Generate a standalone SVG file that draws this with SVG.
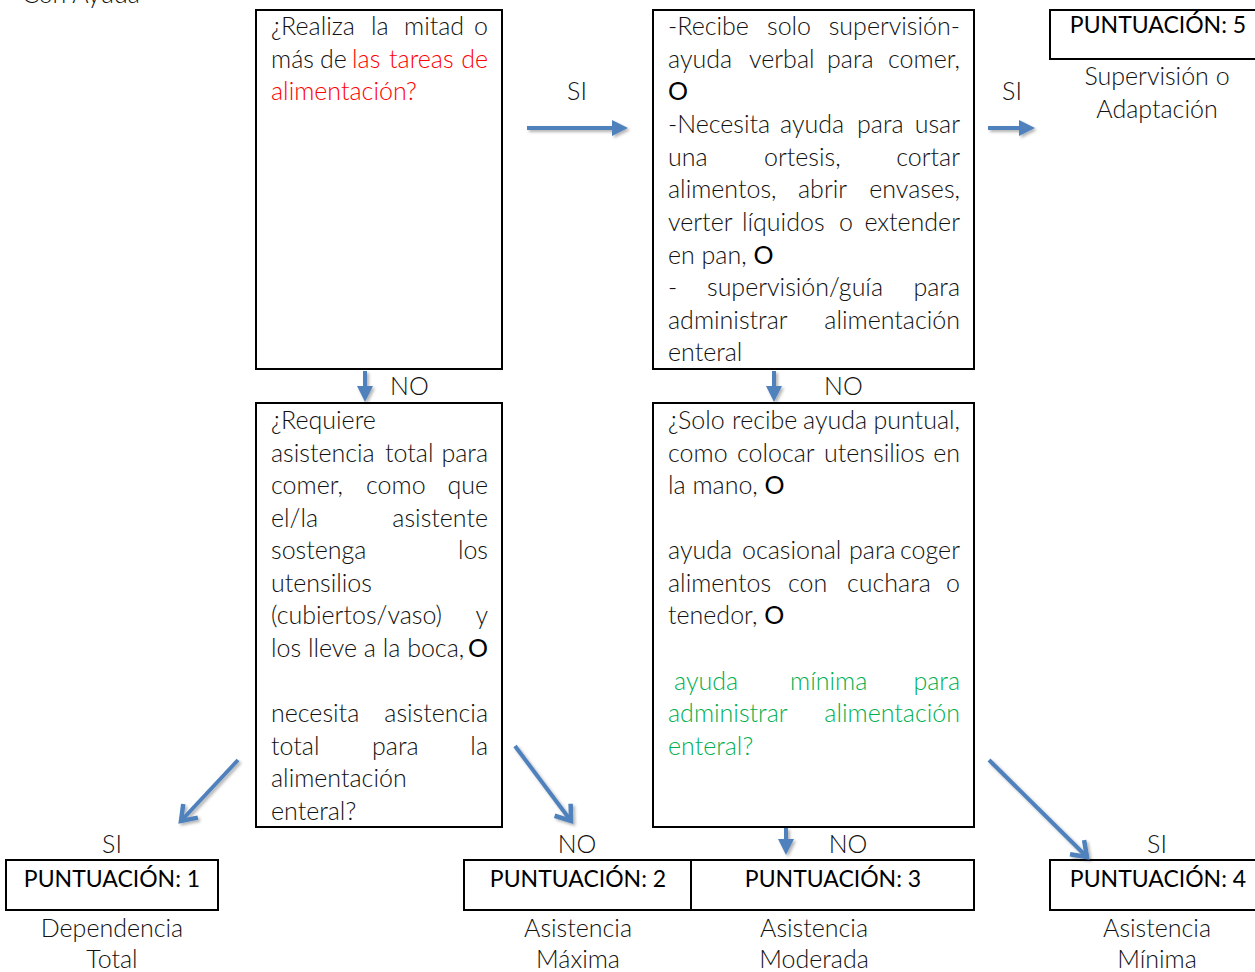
<svg xmlns="http://www.w3.org/2000/svg" width="1255" height="972" viewBox="0 0 1255 972">
  <style>
    .box { fill: #ffffff; stroke: #000000; stroke-width: 2; }
    .t { font-family: Lato, "Open Sans", "Liberation Sans", sans-serif; font-weight: 300; font-size: 25px; fill: #111111; }
    .o { font-weight: 400; font-size: 25px; fill: #000000; }
    .red { fill: #ff0000; }
    .green { fill: #00b050; }
    .score { font-family: Lato, "Open Sans", "Liberation Sans", sans-serif; font-weight: 400; font-size: 23px; fill: #000000; text-anchor: middle; }
    .mid { text-anchor: middle; }
    .end { text-anchor: end; }
    .arrow { fill: none; stroke: #4f81bd; stroke-width: 4; }
  </style>
  <defs>
    <filter id="shadow" x="-20%" y="-20%" width="140%" height="140%">
      <feDropShadow dx="2" dy="2" stdDeviation="1.5" flood-color="#000000" flood-opacity="0.3"/>
    </filter>
    <marker id="tri" viewBox="0 0 16 16" refX="4" refY="8" markerWidth="16" markerHeight="16" markerUnits="userSpaceOnUse" orient="auto">
      <path d="M0,0 L16,8 L0,16 z" fill="#4f81bd"/>
    </marker>
    <marker id="vee" viewBox="-18 -13 22 26" refX="0" refY="0" markerWidth="22" markerHeight="26" markerUnits="userSpaceOnUse" orient="auto" overflow="visible">
      <path d="M-14,-10 L0,0 L-14,10" fill="none" stroke="#4f81bd" stroke-width="4.5" stroke-linejoin="miter"/>
    </marker>
  </defs>

  <rect width="1255" height="972" fill="#ffffff"/>

  <!-- heading cut at the top edge -->
  <text class="t" x="22" y="3">Con Ayuda</text>

  <!-- question: half or more of feeding tasks -->
  <g id="q-mitad">
    <rect class="box" x="256" y="10" width="246" height="359"/>
    <text class="t" y="35"><tspan x="271">¿Realiza</tspan><tspan x="371">la</tspan><tspan x="404">mitad</tspan><tspan x="488" class="end">o</tspan></text>
    <text class="t" y="68"><tspan x="271">más</tspan><tspan x="320">de</tspan><tspan x="352" class="red">las</tspan><tspan x="389" class="red">tareas</tspan><tspan x="488" class="end red">de</tspan></text>
    <text class="t red" x="271" y="100">alimentación?</text>
  </g>

  <!-- supervision / adaptation criteria -->
  <g id="q-supervision">
    <rect class="box" x="653" y="10" width="321" height="359"/>
    <text class="t" y="35"><tspan x="668">-Recibe</tspan><tspan x="767">solo</tspan><tspan x="960" class="end">supervisión-</tspan></text>
    <text class="t" y="68"><tspan x="668">ayuda</tspan><tspan x="749">verbal</tspan><tspan x="827">para</tspan><tspan x="960" class="end">comer,</tspan></text>
    <text class="t o" x="668" y="100">O</text>
    <text class="t" y="133"><tspan x="668">-Necesita</tspan><tspan x="780">ayuda</tspan><tspan x="857">para</tspan><tspan x="960" class="end">usar</tspan></text>
    <text class="t" y="166"><tspan x="668">una</tspan><tspan x="764">ortesis,</tspan><tspan x="960" class="end">cortar</tspan></text>
    <text class="t" y="198"><tspan x="668">alimentos,</tspan><tspan x="798">abrir</tspan><tspan x="960" class="end">envases,</tspan></text>
    <text class="t" y="231"><tspan x="668">verter</tspan><tspan x="742">líquidos</tspan><tspan x="839">o</tspan><tspan x="960" class="end">extender</tspan></text>
    <text class="t" x="668" y="264">en pan, <tspan class="o">O</tspan></text>
    <text class="t" y="296"><tspan x="668">-</tspan><tspan x="707">supervisión/guía</tspan><tspan x="960" class="end">para</tspan></text>
    <text class="t" y="329"><tspan x="668">administrar</tspan><tspan x="960" class="end">alimentación</tspan></text>
    <text class="t" x="668" y="361">enteral</text>
  </g>

  <!-- total assistance question -->
  <g id="q-total">
    <rect class="box" x="256" y="403" width="246" height="424"/>
    <text class="t" x="271" y="429">¿Requiere</text>
    <text class="t" y="462"><tspan x="271">asistencia</tspan><tspan x="385">total</tspan><tspan x="488" class="end">para</tspan></text>
    <text class="t" y="494"><tspan x="271">comer,</tspan><tspan x="366">como</tspan><tspan x="488" class="end">que</tspan></text>
    <text class="t" y="527"><tspan x="271">el/la</tspan><tspan x="488" class="end">asistente</tspan></text>
    <text class="t" y="559"><tspan x="271">sostenga</tspan><tspan x="488" class="end">los</tspan></text>
    <text class="t" x="271" y="592">utensilios</text>
    <text class="t" y="624"><tspan x="271">(cubiertos/vaso)</tspan><tspan x="488" class="end">y</tspan></text>
    <text class="t" y="657"><tspan x="271">los lleve a la boca,</tspan><tspan x="488" class="end o">O</tspan></text>
    <text class="t" y="722"><tspan x="271">necesita</tspan><tspan x="488" class="end">asistencia</tspan></text>
    <text class="t" y="755"><tspan x="271">total</tspan><tspan x="372">para</tspan><tspan x="488" class="end">la</tspan></text>
    <text class="t" x="271" y="787">alimentación</text>
    <text class="t" x="271" y="820">enteral?</text>
  </g>

  <!-- occasional help question -->
  <g id="q-puntual">
    <rect class="box" x="653" y="403" width="321" height="424"/>
    <text class="t" y="429"><tspan x="668">¿Solo</tspan><tspan x="732">recibe</tspan><tspan x="803">ayuda</tspan><tspan x="960" class="end">puntual,</tspan></text>
    <text class="t" y="462"><tspan x="668">como</tspan><tspan x="737">colocar</tspan><tspan x="824">utensilios</tspan><tspan x="960" class="end">en</tspan></text>
    <text class="t" x="668" y="494">la mano, <tspan class="o">O</tspan></text>
    <text class="t" y="559"><tspan x="668">ayuda</tspan><tspan x="742">ocasional</tspan><tspan x="849">para</tspan><tspan x="960" class="end">coger</tspan></text>
    <text class="t" y="592"><tspan x="668">alimentos</tspan><tspan x="788">con</tspan><tspan x="847">cuchara</tspan><tspan x="960" class="end">o</tspan></text>
    <text class="t" x="668" y="624">tenedor, <tspan class="o">O</tspan></text>
    <text class="t green" y="690"><tspan x="674">ayuda</tspan><tspan x="790">mínima</tspan><tspan x="960" class="end">para</tspan></text>
    <text class="t green" y="722"><tspan x="668">administrar</tspan><tspan x="960" class="end">alimentación</tspan></text>
    <text class="t green" x="668" y="755">enteral?</text>
  </g>

  <!-- scores -->
  <g id="p5">
    <rect class="box" x="1050" y="10" width="212" height="49"/>
    <text class="score" x="1158" y="33">PUNTUACIÓN: 5</text>
    <text class="t mid" x="1157" y="85">Supervisión o</text>
    <text class="t mid" x="1157" y="118">Adaptación</text>
  </g>
  <g id="p1">
    <rect class="box" x="6" y="860" width="212" height="50"/>
    <text class="score" x="112" y="887">PUNTUACIÓN: 1</text>
    <text class="t mid" x="112" y="937">Dependencia</text>
    <text class="t mid" x="112" y="968">Total</text>
  </g>
  <g id="p2">
    <rect class="box" x="464" y="860" width="227" height="50"/>
    <text class="score" x="578" y="887">PUNTUACIÓN: 2</text>
    <text class="t mid" x="578" y="937">Asistencia</text>
    <text class="t mid" x="578" y="968">Máxima</text>
  </g>
  <g id="p3">
    <rect class="box" x="691" y="860" width="283" height="50"/>
    <text class="score" x="833" y="887">PUNTUACIÓN: 3</text>
    <text class="t mid" x="814" y="937">Asistencia</text>
    <text class="t mid" x="814" y="968">Moderada</text>
  </g>
  <g id="p4">
    <rect class="box" x="1050" y="860" width="212" height="50"/>
    <text class="score" x="1158" y="887">PUNTUACIÓN: 4</text>
    <text class="t mid" x="1157" y="937">Asistencia</text>
    <text class="t mid" x="1157" y="968">Mínima</text>
  </g>

  <!-- connectors -->
  <g id="connectors" filter="url(#shadow)">
    <line class="arrow" x1="527" y1="128" x2="616" y2="128" marker-end="url(#tri)"/>
    <line class="arrow" x1="988" y1="128" x2="1023" y2="128" marker-end="url(#tri)"/>
    <line class="arrow" x1="365" y1="371" x2="365" y2="390" marker-end="url(#tri)"/>
    <line class="arrow" x1="774" y1="371" x2="774" y2="390" marker-end="url(#tri)"/>
    <line class="arrow" x1="786" y1="828" x2="786" y2="843" marker-end="url(#tri)"/>
    <line class="arrow" x1="238" y1="760" x2="181" y2="821" marker-end="url(#vee)"/>
    <line class="arrow" x1="515" y1="746" x2="571" y2="821" marker-end="url(#vee)"/>
    <line class="arrow" x1="989" y1="760" x2="1087" y2="857" marker-end="url(#vee)"/>
  </g>

  <!-- connector labels -->
  <g id="labels">
    <text class="t mid" x="577" y="100">SI</text>
    <text class="t mid" x="1012" y="100">SI</text>
    <text class="t" x="390" y="395">NO</text>
    <text class="t" x="824" y="395">NO</text>
    <text class="t mid" x="112" y="853">SI</text>
    <text class="t mid" x="577" y="853">NO</text>
    <text class="t mid" x="848" y="853">NO</text>
    <text class="t mid" x="1157" y="853">SI</text>
  </g>
</svg>
